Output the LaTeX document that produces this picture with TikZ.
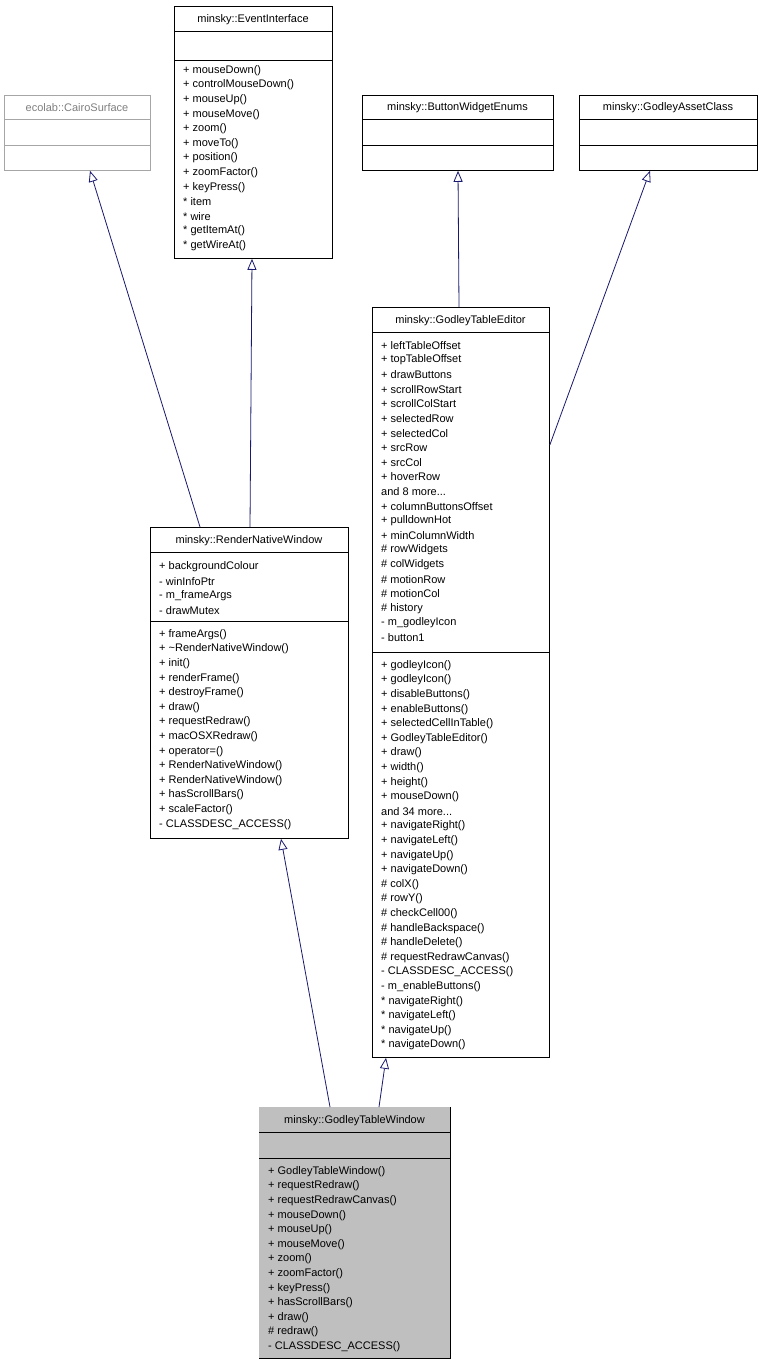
\documentclass[tikz,border=0pt]{standalone}
\usepackage{fontspec}
\setmainfont{Liberation Sans}
\usetikzlibrary{calc,arrows.meta}
\definecolor{navy}{HTML}{191970}
\newcommand\mdots{.{}.{}.}
\tikzset{
  box/.style={draw=black,fill=white,anchor=north west,inner sep=0,line width=0.8pt},
  txt/.style={anchor=west,inner sep=0,font=\fontsize{11}{12}\selectfont},
  ttl/.style={anchor=center,inner sep=0,font=\fontsize{11}{12}\selectfont},
  inh/.style={draw=navy,line width=0.8pt,-{Triangle[open,length=11pt,width=9pt,fill=white]}}
}
\newcommand\mlines[4]{\foreach \t [count=\i] in {#4} {\node[txt] (#1-\i) at (#2,{#3+2.5+14.6*(\i-1)}) {\t};}}
\newcommand\cbox[7]{% name x1 y1 x2 y2 sep1 sep2
  \node[box,minimum width={#4-#2},minimum height={#5-#3}] (#1) at (#2,#3) {};
  \draw[line width=0.8pt] (#2,#6) -- (#4,#6) (#2,#7) -- (#4,#7);}
\begin{document}
\begin{tikzpicture}[x=1pt,y=-1pt]
\useasboundingbox[fill=white] (0,0) rectangle (763,1365);
% EventInterface
\cbox{ei}{174}{6}{332}{258}{31}{60}
\node[ttl] (ei-t) at (253,19.5) {minsky::EventInterface};
\mlines{ei}{183}{68}{+ mouseDown(),+ controlMouseDown(),+ mouseUp(),+ mouseMove(),+ zoom(),+ moveTo(),+ position(),+ zoomFactor(),+ keyPress(),* item,* wire,* getItemAt(),* getWireAt()}
% CairoSurface
\node[box,draw=gray!70,minimum width=146,minimum height=75] (cs) at (4,95) {};
\draw[gray!70,line width=0.8pt] (4,119)--(150,119) (4,145)--(150,145);
\node[ttl,text=gray] (cs-t) at (77,108) {ecolab::CairoSurface};
% ButtonWidgetEnums
\cbox{bw}{362}{95}{553}{170}{119}{145}
\node[ttl] (bw-t) at (457.5,108) {minsky::ButtonWidgetEnums};
% GodleyAssetClass
\cbox{ga}{579}{95}{757}{170}{119}{145}
\node[ttl] (ga-t) at (668,108) {minsky::GodleyAssetClass};
% GodleyTableEditor
\cbox{ge}{372}{307}{549}{1057}{332}{652}
\node[ttl] (ge-t) at (460.5,320.5) {minsky::GodleyTableEditor};
\mlines{gea}{381}{343}{+ leftTableOffset,+ topTableOffset,+ drawButtons,+ scrollRowStart,+ scrollColStart,+ selectedRow,+ selectedCol,+ srcRow,+ srcCol,+ hoverRow,{and 8 more\mdots},+ columnButtonsOffset,+ pulldownHot,+ minColumnWidth,\# rowWidgets,\# colWidgets,\# motionRow,\# motionCol,\# history,- m\_godleyIcon,- button1}
\mlines{gem}{381}{663}{+ godleyIcon(),+ godleyIcon(),+ disableButtons(),+ enableButtons(),+ selectedCellInTable(),+ GodleyTableEditor(),+ draw(),+ width(),+ height(),+ mouseDown(),{and 34 more\mdots},+ navigateRight(),+ navigateLeft(),+ navigateUp(),+ navigateDown(),\# colX(),\# rowY(),\# checkCell00(),\# handleBackspace(),\# handleDelete(),\# requestRedrawCanvas(),- CLASSDESC\_ACCESS(),- m\_enableButtons(),* navigateRight(),* navigateLeft(),* navigateUp(),* navigateDown()}
% RenderNativeWindow
\cbox{rn}{150}{527}{348}{838}{552}{621}
\node[ttl] (rn-t) at (249,540.5) {minsky::RenderNativeWindow};
\mlines{rna}{159}{564}{+ backgroundColour,- winInfoPtr,- m\_frameArgs,- drawMutex}
\mlines{rnm}{159}{632}{+ frameArgs(),+ \textasciitilde RenderNativeWindow(),+ init(),+ renderFrame(),+ destroyFrame(),+ draw(),+ requestRedraw(),+ macOSXRedraw(),+ operator=(),+ RenderNativeWindow(),+ RenderNativeWindow(),+ hasScrollBars(),+ scaleFactor(),- CLASSDESC\_ACCESS()}
% GodleyTableWindow
\cbox{gw}{259}{1107}{450}{1358}{1132}{1158}
\fill[gray!50] (259.4,1107.4) rectangle (449.6,1357.6);
\draw[line width=0.8pt] (259,1132)--(450,1132) (259,1158)--(450,1158);
\node[ttl] (gw-t) at (354.5,1120.5) {minsky::GodleyTableWindow};
\mlines{gw}{268}{1169}{+ GodleyTableWindow(),+ requestRedraw(),+ requestRedrawCanvas(),+ mouseDown(),+ mouseUp(),+ mouseMove(),+ zoom(),+ zoomFactor(),+ keyPress(),+ hasScrollBars(),+ draw(),\# redraw(),- CLASSDESC\_ACCESS()}
% arrows
\draw[inh] ($(rn.north west)+(50,0)$) -- ($(cs.south west)+(86,0)$);
\draw[inh] ($(rn.north west)+(100,0)$) -- ($(ei.south west)+(78,0)$);
\draw[inh] ($(ge.north west)+(87,0)$) -- ($(bw.south west)+(96,0)$);
\draw[inh] ($(ge.north east)+(0,138)$) -- ($(ga.south west)+(71,0)$);
\draw[inh] ($(gw.north west)+(71,0)$) -- ($(rn.south west)+(131,0)$);
\draw[inh] ($(gw.north west)+(120,0)$) -- ($(ge.south west)+(14,0)$);
\end{tikzpicture}
\end{document}
